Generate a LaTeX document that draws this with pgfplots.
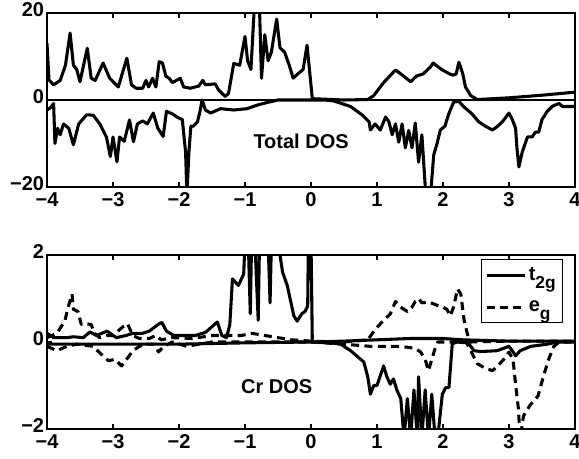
\documentclass[border=0pt]{standalone}
\usepackage{fontspec}
\setmainfont{Liberation Sans}
\usepackage{pgfplots}
\pgfplotsset{compat=1.18}
\newcommand{\lbl}{\fontsize{15}{17}\selectfont\bfseries}
\begin{document}
\lbl
\begin{tikzpicture}
\useasboundingbox (0pt,0pt) rectangle (434.25pt,344.25pt);
\pgfplotsset{
  dosax/.style={
    scale only axis, width=396pt, height=130.5pt,
    xmin=-4, xmax=4,
    xtick={-4,-3,-2,-1,0,1,2,3,4},
    xticklabels={−4,−3,−2,−1,0,1,2,3,4},
    tick align=inside, major tick length=4pt,
    axis line style={line width=0.8pt},
    every tick/.style={black, line width=0.8pt},
    tick label style={font=\lbl},
    xticklabel style={yshift=1pt},
    yticklabel style={xshift=3pt},
    clip=true,
  },
  curve/.style={black, line width=2.3pt, line join=round},
}
% ---------- Top panel ----------
\begin{axis}[dosax, at={(35.25pt,204pt)}, anchor=south west,
  ymin=-20, ymax=20, ytick={-20,0,20}, yticklabels={−20,0,20},
  every y tick label/.append style={yshift=2.5pt}]
\addplot[black, line width=1.3pt] coordinates {(-4,0) (4,0)};
\addplot[curve] coordinates {
(-4,13) (-3.97,4.6) (-3.9,3.5) (-3.8,4.5) (-3.72,8) (-3.65,15.4) (-3.6,8) (-3.55,7) (-3.5,4.2)
(-3.39,11.9) (-3.33,5) (-3.27,4.5) (-3.15,8.5) (-3.05,5) (-2.92,3.0) (-2.79,9.6) (-2.72,3.5)
(-2.65,2.7) (-2.55,2.7) (-2.5,4.5) (-2.46,3) (-2.4,5) (-2.35,3) (-2.3,8.8) (-2.25,8.5) (-2.2,5.5)
(-2.15,5) (-2.1,4) (-1.98,5) (-1.93,3) (-1.83,2.7) (-1.7,3.2) (-1.64,4.5) (-1.6,3.5) (-1.45,3.7)
(-1.4,2.3) (-1.3,0.8) (-1.25,1.5) (-1.17,8.4) (-1.08,8) (-1.0,14.6) (-0.96,9) (-0.91,7)
(-0.86,21) (-0.82,21) (-0.78,21) (-0.75,5) (-0.7,15) (-0.65,9) (-0.6,11) (-0.52,18.6) (-0.47,12)
(-0.4,11) (-0.33,8) (-0.27,5) (-0.2,6) (-0.12,7) (-0.06,12.6) (0.02,0.3) (0.5,0.0) (0.86,0.1)
(0.95,1) (1.1,4) (1.28,6.9) (1.36,6) (1.51,4.2) (1.6,5.5) (1.7,6) (1.81,7.6) (1.85,8.5) (1.98,7)
(2.1,6) (2.15,5.7) (2.2,6) (2.24,8.7) (2.3,6) (2.34,3.0) (2.42,1.0) (2.52,0.1) (3.0,0.5) (3.5,1.1) (4,1.8)};
\addplot[curve] coordinates {
(-4,-2.3) (-3.95,-1.8) (-3.9,-0.8) (-3.88,-10) (-3.84,-6.5) (-3.8,-8) (-3.75,-5.5) (-3.67,-6.5)
(-3.6,-10.3) (-3.52,-5.5) (-3.4,-3.4) (-3.3,-3.5) (-3.2,-5.5) (-3.1,-8.5) (-3.04,-13) (-3.0,-8.5)
(-2.94,-14.2) (-2.9,-8.5) (-2.83,-9.5) (-2.75,-4.6) (-2.69,-9.6) (-2.63,-5.5) (-2.55,-4.8)
(-2.48,-5.5) (-2.39,-3.0) (-2.32,-6.5) (-2.24,-8.4) (-2.19,-2.6) (-2.1,-3.2) (-2.02,-4) (-1.95,-4.5)
(-1.9,-12) (-1.88,-22) (-1.85,-12) (-1.82,-6) (-1.78,-6) (-1.72,-5) (-1.68,-2.5) (-1.65,0)
(-1.6,-2.3) (-1.52,-3) (-1.37,-2) (-1.17,-2.3) (-0.97,-2) (-0.82,-1.2) (-0.67,-0.6) (-0.5,0)
(0.2,0) (0.34,-0.2) (0.6,-1.5) (0.78,-3.5) (0.88,-5) (0.9,-6.9) (0.97,-5.5) (1.05,-6.9)
(1.13,-3.9) (1.18,-5) (1.23,-8) (1.28,-5.5) (1.33,-9.7) (1.38,-5.5) (1.43,-11) (1.48,-7)
(1.53,-11) (1.58,-5.3) (1.63,-14.3) (1.68,-8) (1.74,-22) (1.81,-22) (1.86,-12.6) (1.91,-10)
(1.96,-6.9) (2.03,-6) (2.08,-3.5) (2.16,-0.5) (2.24,-0.3) (2.31,-1.5) (2.44,-3.2) (2.54,-5)
(2.64,-6) (2.75,-6.9) (2.83,-6) (2.9,-5) (3.0,-3.0) (3.05,-4.5) (3.1,-6.5) (3.12,-11) (3.15,-15.4)
(3.2,-12) (3.28,-8.5) (3.35,-8.5) (3.4,-7.4) (3.45,-7.4) (3.5,-4.5) (3.58,-2.6) (3.66,-1.4)
(3.76,-0.8) (3.81,-1.5) (3.88,-1.5) (4,-1.5)};
\node[font=\lbl] at (axis cs:-0.15,-9.6) {Total DOS};
\end{axis}
% ---------- Bottom panel ----------
\begin{axis}[dosax, at={(35.25pt,22.5pt)}, anchor=south west,
  ymin=-2, ymax=2, ytick={-2,0,2}, yticklabels={−2,0,2},
  every y tick label/.append style={yshift=2.5pt},
  legend style={at={(0.977,0.977)}, anchor=north east, draw=black, line width=0.8pt,
    font=\lbl, inner xsep=3pt, inner ysep=4pt, row sep=9pt},
  legend cell align=left,
  legend image code/.code={\draw[#1] (0cm,0cm) -- (1.0cm,0cm);}]
\addplot[curve] coordinates {
(-4,0.2) (-3.9,0.1) (-3.7,0.1) (-3.6,0.12) (-3.45,0.1) (-3.35,0.23) (-3.25,0.15) (-3.09,0.25)
(-2.95,0.1) (-2.8,0.15) (-2.7,0.2) (-2.55,0.2) (-2.45,0.25) (-2.31,0.41) (-2.26,0.45) (-2.19,0.25)
(-2.08,0.15) (-1.9,0.15) (-1.75,0.15) (-1.6,0.22) (-1.42,0.46) (-1.35,0.15) (-1.28,0.1) (-1.23,0.4)
(-1.19,1.45) (-1.1,1.3) (-1.02,1.56) (-1.0,2.3) (-0.95,2.3) (-0.92,0.65) (-0.9,2.3) (-0.85,2.3)
(-0.8,0.5) (-0.78,2.3) (-0.65,2.3) (-0.62,0.9) (-0.6,2.3) (-0.5,2.3) (-0.43,1.6) (-0.36,1.3)
(-0.26,0.6) (-0.21,0.48) (-0.14,0.65) (-0.09,0.7) (-0.05,0.83) (-0.04,2.3) (0.0,2.3) (0.02,0.0)
(0.5,0.02) (1,0.05) (1.5,0.08) (2,0.08) (2.3,0.05) (3,0.02) (4,0.02)};
\addlegendentry{t\raisebox{-0.4em}{\fontsize{13}{13}\selectfont 2g}}
\addplot[curve, dash pattern=on 6pt off 4pt] coordinates {
(-4,0.1) (-3.85,0.2) (-3.73,0.48) (-3.68,0.8) (-3.62,1.1) (-3.6,0.75) (-3.53,0.7) (-3.48,0.4)
(-3.4,0.42) (-3.33,0.4) (-3.28,0.2) (-3.2,0.1) (-3.1,0.15) (-3.0,0.15) (-2.85,0.35) (-2.78,0.42)
(-2.7,0.15) (-2.6,0.08) (-2.45,0.08) (-2.35,0.15) (-2.27,0.05) (-2.1,0.1) (-1.8,0.08) (-1.5,0.15)
(-1.3,0.15) (-1.05,0.15) (-0.9,0.2) (-0.7,0.15) (-0.5,0.1) (-0.3,0.05) (0,0.02) (0.5,0.0)
(0.86,0.05) (0.98,0.3) (1.1,0.5) (1.2,0.64) (1.28,0.93) (1.36,0.8) (1.46,0.7) (1.53,0.8)
(1.58,0.93) (1.63,1.0) (1.68,0.9) (1.78,0.92) (1.9,0.85) (2.0,0.8) (2.06,0.75) (2.11,0.6)
(2.16,0.8) (2.22,1.22) (2.27,1.1) (2.32,0.5) (2.37,0.18) (2.42,0.0) (3,0.02) (4,0.02)};
\addlegendentry{e\raisebox{-0.4em}{\fontsize{13}{13}\selectfont g}}
\addplot[curve, forget plot] coordinates {
(-4,-0.05) (-3,-0.05) (-2,-0.05) (-1,-0.02) (0,0) (0.3,-0.02) (0.45,-0.05) (0.6,-0.2) (0.8,-0.46)
(0.86,-0.8) (0.9,-1.2) (0.95,-1.0) (1.0,-1.0) (1.1,-0.55) (1.15,-0.8) (1.2,-0.97) (1.25,-0.85)
(1.3,-1.1) (1.36,-1.3) (1.41,-2.2) (1.46,-1.3) (1.51,-2.2) (1.56,-1.1) (1.61,-2.2) (1.63,-0.8)
(1.68,-2.2) (1.73,-1.1) (1.78,-2.2) (1.83,-1.2) (1.88,-2.2) (1.92,-2.2) (1.99,-1.2) (2.04,-1.05)
(2.09,-1.05) (2.14,-0.05) (2.2,0) (2.38,-0.02) (2.47,-0.2) (2.57,-0.22) (2.82,-0.2) (3.0,-0.1)
(3.05,-0.2) (3.1,-0.32) (3.17,-0.2) (3.33,-0.1) (3.58,-0.05) (3.73,0) (4,0)};
\addplot[curve, dash pattern=on 6pt off 4pt, forget plot] coordinates {
(-4,-0.1) (-3.85,-0.2) (-3.7,-0.1) (-3.55,-0.05) (-3.3,-0.1) (-3.2,-0.25) (-3.07,-0.43)
(-2.97,-0.4) (-2.87,-0.55) (-2.77,-0.35) (-2.7,-0.2) (-2.6,-0.1) (-2.5,-0.05) (-2.38,-0.05)
(-2.31,-0.23) (-2.23,-0.1) (-2.1,0) (-1.88,-0.1) (-1.7,-0.05) (-1.5,0) (0,0) (0.5,-0.05)
(0.9,-0.1) (1.1,-0.1) (1.3,-0.1) (1.46,-0.12) (1.58,-0.15) (1.66,-0.23) (1.73,-0.4) (1.78,-0.66)
(1.83,-0.4) (1.88,-0.15) (1.92,0) (2.35,0) (2.42,-0.2) (2.52,-0.5) (2.64,-0.6) (2.75,-0.66)
(2.83,-0.55) (2.92,-0.4) (3.0,-0.23) (3.06,-0.4) (3.1,-0.97) (3.14,-1.5) (3.17,-2.2) (3.22,-1.7)
(3.32,-1.45) (3.44,-1.24) (3.52,-0.8) (3.6,-0.4) (3.68,-0.1) (3.76,0) (4,0)};
\node[font=\lbl] at (axis cs:-0.52,-1.03) {Cr DOS};
\end{axis}
\end{tikzpicture}
\end{document}
